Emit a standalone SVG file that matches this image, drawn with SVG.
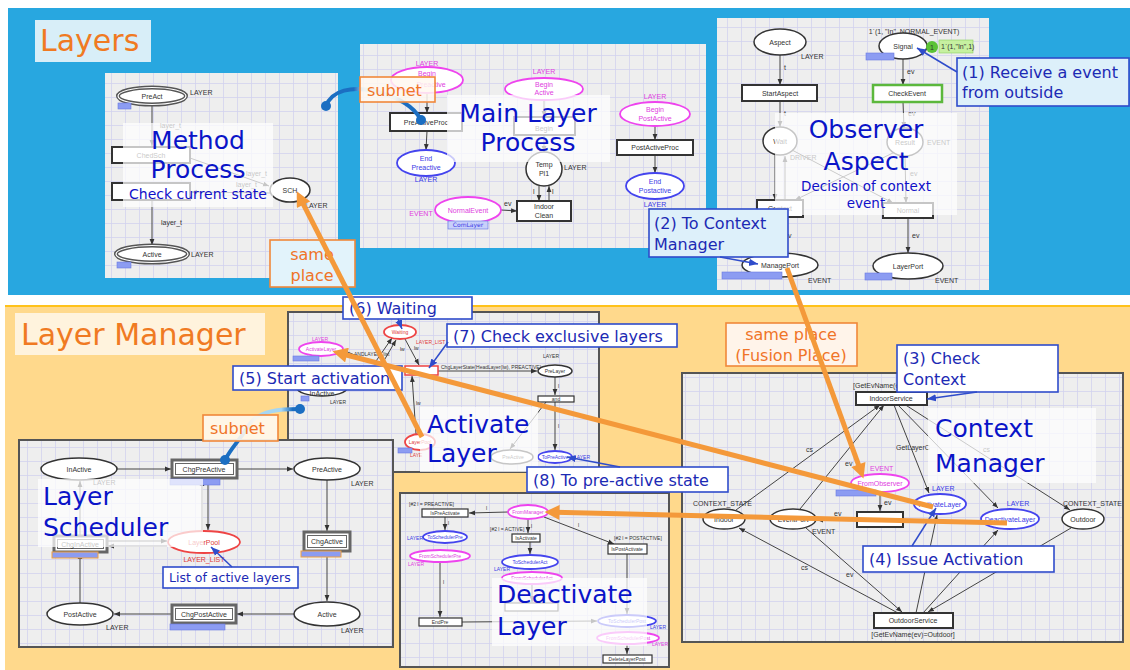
<svg xmlns="http://www.w3.org/2000/svg" width="1130" height="670" viewBox="0 0 1130 670">
<style>
text{font-family:"DejaVu Sans","Noto Sans",sans-serif}
.s{font-family:"Liberation Sans",Arial,sans-serif;font-size:7px;fill:#333}
.xs{font-family:"Liberation Sans",Arial,sans-serif;font-size:5px;fill:#333}
.c{text-anchor:middle}
.pl{fill:#fff;stroke:#333;stroke-width:1.5}
.tr{fill:#fff;stroke:#333;stroke-width:2}
.tr1{fill:#fff;stroke:#333;stroke-width:1.2}
.mg{fill:#fff;stroke:#EE44EE;stroke-width:1.8}
.bn{fill:#fff;stroke:#4444EE;stroke-width:1.8}
.rd{fill:#fff;stroke:#EE4444;stroke-width:1.8}
.tm{fill:#E040E0}
.tb{fill:#3A3AE6}
.trd{fill:#E03A3A}
.arc{stroke:#444;stroke-width:1;fill:none}
.ov{fill:#fff;fill-opacity:.72}
.big{font-size:25px;fill:#0A14C8}
.co{fill:#fff;stroke:#2F4CCB;stroke-width:1.6}
.cof{fill:#DDF0FA;stroke:#2F4CCB;stroke-width:1.6}
.ct{font-size:16px;fill:#1C2AB4}
.cl{stroke:#2F4CCB;stroke-width:1.5;fill:none}
.ot{font-size:16px;fill:#F07428}
.on{stroke:#F4993A;stroke-width:5;fill:none}
.tag{fill:#8C9CF2;stroke:#6A7AE0;stroke-width:.6}
.tago{fill:#8C9CF2;stroke:#F0A040;stroke-width:1}
.pn{fill:url(#grid)}
.pb{fill:url(#grid);stroke:#555;stroke-width:2}
.dot{fill:#1B6EC2}
</style>
<defs>
<pattern id="grid" width="14" height="14" patternUnits="userSpaceOnUse">
<rect width="14" height="14" fill="#EEEEEE"/>
<path d="M13.5 0V14M0 13.5H14" stroke="#D2D2EE" stroke-width="0.8" fill="none"/>
</pattern>
<marker id="ah" viewBox="0 0 10 10" refX="10" refY="5" markerWidth="6" markerHeight="6" markerUnits="userSpaceOnUse" orient="auto"><path d="M0,1L10,5L0,9z" fill="#333"/></marker>
<marker id="ab" viewBox="0 0 10 10" refX="10" refY="5" markerWidth="9" markerHeight="9" markerUnits="userSpaceOnUse" orient="auto"><path d="M0,1L10,5L0,9z" fill="#2F4CCB"/></marker>
<marker id="ao" viewBox="0 0 10 10" refX="3" refY="5" markerWidth="17" markerHeight="15" markerUnits="userSpaceOnUse" orient="auto"><path d="M0,0L10,5L0,10z" fill="#F4993A"/></marker>
<linearGradient id="sg1" gradientUnits="userSpaceOnUse" x1="325" y1="0" x2="421" y2="0">
<stop offset="0" stop-color="#1B6EC2"/><stop offset=".3" stop-color="#1B6EC2"/><stop offset=".42" stop-color="#A6D6F2"/><stop offset=".72" stop-color="#A6D6F2"/><stop offset=".82" stop-color="#1B6EC2"/><stop offset="1" stop-color="#1B6EC2"/>
</linearGradient>
<linearGradient id="sg2" gradientUnits="userSpaceOnUse" x1="300" y1="0" x2="225" y2="0">
<stop offset="0" stop-color="#1B6EC2"/><stop offset=".1" stop-color="#1B6EC2"/><stop offset=".25" stop-color="#A6D6F2"/><stop offset=".6" stop-color="#A6D6F2"/><stop offset=".75" stop-color="#1B6EC2"/><stop offset="1" stop-color="#1B6EC2"/>
</linearGradient>
</defs>

<!-- backgrounds -->
<rect width="1130" height="670" fill="#fff"/>
<rect x="8" y="8" width="1122" height="287" fill="#28A7E0"/>
<rect x="5" y="305" width="1125" height="365" fill="#FFD98C"/>
<line x1="5" y1="306" x2="1130" y2="306" stroke="#FFC21A" stroke-width="2"/>

<g id="label-layers">
<rect x="35" y="20" width="116" height="42" fill="#D8EEF8"/>
<text x="40" y="51" font-size="30" fill="#F07A22">Layers</text>
</g>
<g id="label-layer-manager">
<rect x="15" y="313" width="250" height="42" fill="#FFF3DD"/>
<text x="21" y="345" font-size="30" fill="#F07A22">Layer Manager</text>
</g>

<!-- Method Process net -->
<g id="method-process">
<rect class="pn" x="105" y="73" width="233" height="205"/>
<line class="arc" x1="152" y1="104" x2="152" y2="146" marker-end="url(#ah)"/>
<text class="s" x="160" y="128">layer_t</text>
<line class="arc" x1="190" y1="158" x2="269" y2="186" marker-end="url(#ah)"/>
<line class="arc" x1="270" y1="193" x2="191" y2="192" marker-end="url(#ah)"/>
<text class="s" x="246" y="176">layer_t</text>
<text class="s" x="236" y="187">layer_t</text>
<line class="arc" x1="152" y1="200" x2="152" y2="245" marker-end="url(#ah)"/>
<text class="s" x="161" y="225">layer_t</text>
<ellipse cx="152" cy="96" rx="34" ry="8.5" fill="#fff" stroke="#555" stroke-width="4"/>
<ellipse cx="152" cy="96" rx="34" ry="8.5" fill="none" stroke="#fff" stroke-width="1.2"/>
<text class="s c" x="152" y="99">PreAct</text>
<text class="s" x="190" y="95">LAYER</text>
<rect class="tag" x="118" y="103" width="13" height="6"/>
<rect class="tr" x="112" y="147" width="78" height="16"/>
<text class="s c" x="151" y="158">ChedSch</text>
<rect class="tr" x="112" y="183" width="78" height="17"/>
<ellipse class="pl" cx="290" cy="190" rx="20" ry="12"/>
<text class="s c" x="290" y="193">SCH</text>
<text class="s" x="305" y="208">LAYER</text>
<ellipse cx="152" cy="254" rx="36" ry="8.5" fill="#fff" stroke="#555" stroke-width="4"/>
<ellipse cx="152" cy="254" rx="36" ry="8.5" fill="none" stroke="#fff" stroke-width="1.2"/>
<text class="s c" x="152" y="257">Active</text>
<text class="s" x="191" y="257">LAYER</text>
<rect class="tag" x="117" y="262" width="14" height="6"/>
<rect class="ov" x="123" y="123" width="150" height="84"/>
<text class="big c" x="198" y="149">Method</text>
<text class="big c" x="198" y="178">Process</text>
<text class="c" x="198" y="199" font-size="14" fill="#1010C8">Check current state</text>
</g>

<!-- Main Layer Process net -->
<g id="main-layer-process">
<rect class="pn" x="360" y="44" width="346" height="204"/>
<line class="arc" x1="427" y1="93" x2="427" y2="113" stroke-width="1.5" marker-end="url(#ah)"/>
<line class="arc" x1="427" y1="131" x2="426" y2="150" stroke-width="1.5" marker-end="url(#ah)"/>
<line class="arc" x1="544" y1="100" x2="544" y2="117" marker-end="url(#ah)"/>
<line class="arc" x1="544" y1="135" x2="544" y2="152" marker-end="url(#ah)"/>
<line class="arc" x1="539" y1="186" x2="539" y2="201" marker-end="url(#ah)"/>
<line class="arc" x1="549" y1="201" x2="549" y2="186" marker-end="url(#ah)"/>
<text class="s" x="533" y="194">l</text><text class="s" x="552" y="194">l</text>
<line class="arc" x1="501" y1="210" x2="517" y2="211" marker-end="url(#ah)"/>
<text class="s" x="504" y="206">ev</text>
<line class="arc" x1="655" y1="126" x2="655" y2="140" marker-end="url(#ah)"/>
<line class="arc" x1="655" y1="155" x2="655" y2="173" marker-end="url(#ah)"/>
<text class="s c tm" x="427" y="66">LAYER</text>
<ellipse class="mg" cx="427" cy="80" rx="36" ry="13"/>
<text class="s c tm" x="427" y="76">Begin</text><text class="s c tm" x="431" y="87">Preactive</text>
<rect class="tr" x="390" y="113" width="72" height="18"/>
<text class="s c" x="426" y="125">PreActiveProc</text>
<ellipse class="bn" cx="426" cy="163" rx="29" ry="13"/>
<text class="s c tb" x="426" y="161">End</text><text class="s c tb" x="426" y="170">Preactive</text>
<text class="s c tb" x="426" y="182">LAYER</text>
<text class="s c tm" x="544" y="74">LAYER</text>
<ellipse class="mg" cx="544" cy="89" rx="39" ry="11"/>
<text class="s c tm" x="544" y="87">Begin</text><text class="s c tm" x="544" y="95">Active</text>
<rect class="tr" x="514" y="117" width="61" height="18"/>
<text class="s c" x="544" y="131">Begin</text>
<ellipse class="pl" cx="544" cy="169" rx="18" ry="17"/>
<text class="s c" x="544" y="167">Temp</text><text class="s c" x="544" y="176">Pl1</text>
<text class="s" x="564" y="170">LAYER</text>
<rect class="tr" x="517" y="201" width="54" height="20"/>
<text class="s c" x="544" y="209">Indoor</text><text class="s c" x="544" y="218">Clean</text>
<ellipse class="mg" cx="468" cy="210" rx="33" ry="13"/>
<text class="s c tm" x="468" y="213">NormalEvent</text>
<text class="s c tm" x="421" y="216">EVENT</text>
<rect x="448" y="221" width="40" height="8" fill="#C8D0FA" stroke="#6070E0" stroke-width=".6"/>
<text class="c" x="468" y="227" font-size="6" font-family="Liberation Sans" fill="#3A3AE6">ComLayer</text>
<text class="s c tm" x="655" y="99">LAYER</text>
<ellipse class="mg" cx="655" cy="114" rx="35" ry="12"/>
<text class="s c tm" x="655" y="112">Begin</text><text class="s c tm" x="655" y="121">PostActive</text>
<rect class="tr" x="617" y="140" width="76" height="15"/>
<text class="s c" x="655" y="150">PostActiveProc</text>
<ellipse class="bn" cx="655" cy="186" rx="29" ry="13"/>
<text class="s c tb" x="655" y="184">End</text><text class="s c tb" x="655" y="193">Postactive</text>
<text class="s c tb" x="655" y="207">LAYER</text>
<rect class="ov" x="447" y="95" width="163" height="67"/>
<text class="big c" x="528" y="122">Main Layer</text>
<text class="big c" x="528" y="151">Process</text>
</g>

<!-- Observer Aspect net -->
<g id="observer-aspect">
<rect class="pn" x="717" y="18" width="272" height="272"/>
<text class="s c" x="914" y="34">1`(1, "In", NORMAL_EVENT)</text>
<line class="arc" x1="780" y1="55" x2="780" y2="85" marker-end="url(#ah)"/>
<text class="s" x="784" y="70">t</text>
<line class="arc" x1="780" y1="101" x2="780" y2="127" marker-end="url(#ah)"/>
<text class="s" x="784" y="116">t</text>
<line class="arc" x1="775" y1="155" x2="775" y2="200" marker-end="url(#ah)"/>
<line class="arc" x1="785" y1="200" x2="785" y2="156" marker-end="url(#ah)"/>
<line class="arc" x1="792" y1="150" x2="893" y2="203" marker-end="url(#ah)"/>
<line class="arc" x1="895" y1="152" x2="795" y2="200" marker-end="url(#ah)"/>
<text class="s" x="790" y="160">DRIVER</text>
<line class="arc" x1="903" y1="59" x2="903" y2="85" marker-end="url(#ah)"/>
<text class="s" x="907" y="74">ev</text>
<line class="arc" x1="903" y1="102" x2="904" y2="128" marker-end="url(#ah)"/>
<text class="s" x="908" y="116">ev</text>
<line class="arc" x1="905" y1="156" x2="906" y2="203" marker-end="url(#ah)"/>
<text class="s" x="910" y="176">ev</text>
<line class="arc" x1="780" y1="217" x2="780" y2="253" marker-end="url(#ah)"/>
<text class="s" x="784" y="238">ev</text>
<line class="arc" x1="908" y1="218" x2="908" y2="253" marker-end="url(#ah)"/>
<text class="s" x="912" y="238">ev</text>
<ellipse class="pl" cx="780" cy="42" rx="26" ry="13"/>
<text class="s c" x="780" y="45">Aspect</text>
<text class="s" x="801" y="59">LAYER</text>
<rect class="tr" x="742" y="85" width="75" height="16"/>
<text class="s c" x="780" y="96">StartAspect</text>
<ellipse class="pl" cx="780" cy="141" rx="17" ry="14"/>
<text class="s c" x="780" y="144">Wait</text>
<ellipse class="pl" cx="903" cy="46" rx="24" ry="13"/>
<text class="s c" x="903" y="49">Signal</text>
<rect class="tag" x="866" y="53" width="28" height="7"/>
<circle cx="932" cy="47" r="6" fill="#5BC236"/>
<text class="s c" x="932" y="50" fill="#fff">1</text>
<rect x="939" y="40" width="34" height="13" fill="#C6F0A0" stroke="#8BD060" stroke-width=".6"/>
<text class="s" x="941" y="49">1`(1,"In",1)</text>
<rect x="873" y="85" width="69" height="17" fill="#fff" stroke="#5CB83C" stroke-width="2.5"/>
<text class="s c" x="907" y="96">CheckEvent</text>
<ellipse class="pl" cx="905" cy="142" rx="18" ry="14"/>
<text class="s c" x="905" y="145">Result</text>
<text class="s" x="927" y="145">EVENT</text>
<rect class="tr" x="757" y="200" width="46" height="17"/>
<text class="s c" x="780" y="211">Context</text>
<rect class="tr" x="883" y="203" width="50" height="15"/>
<text class="s c" x="908" y="213">Normal</text>
<ellipse class="pl" cx="780" cy="265" rx="38" ry="12"/>
<text class="s c" x="780" y="268">ManagePort</text>
<text class="s" x="808" y="283">EVENT</text>
<rect class="tag" x="722" y="272" width="60" height="7"/>
<ellipse class="pl" cx="908" cy="266" rx="35" ry="13"/>
<text class="s c" x="908" y="269">LayerPort</text>
<text class="s" x="935" y="283">EVENT</text>
<rect class="tag" x="865" y="273" width="27" height="7"/>
<rect class="ov" x="775" y="113" width="182" height="102"/>
<text class="big c" x="866" y="138">Observer</text>
<text class="big c" x="866" y="170">Aspect</text>
<text class="c" x="866" y="191" font-size="13.5" fill="#1010C8">Decision of context</text>
<text class="c" x="866" y="208" font-size="13.5" fill="#1010C8">event</text>
</g>

<!-- Activate Layer net -->
<g id="activate-layer">
<rect class="pb" x="288" y="312" width="311" height="160"/>
<line class="arc" x1="343" y1="350" x2="373" y2="363"/>
<text class="xs" x="354" y="356">ANDLAYER_list</text>
<line class="arc" x1="374" y1="364" x2="392" y2="338" marker-end="url(#ah)"/>
<line class="arc" x1="382" y1="364" x2="396" y2="340" marker-end="url(#ah)"/>
<line class="arc" x1="405" y1="339" x2="419" y2="365" marker-end="url(#ah)"/>
<text class="xs" x="400" y="351">lw</text><text class="xs" x="414" y="350">lw</text>
<line class="arc" x1="438" y1="371" x2="537" y2="371" marker-end="url(#ah)"/>
<text class="xs" x="441" y="369">ChgLayerState(HeadLayer(lw), PREACTIVE)</text>
<line class="arc" x1="555" y1="377" x2="555" y2="395" marker-end="url(#ah)"/>
<text class="xs" x="558" y="388">l</text>
<line class="arc" x1="555" y1="402" x2="555" y2="450" marker-end="url(#ah)"/>
<text class="xs" x="558" y="428">l</text>
<line class="arc" x1="546" y1="402" x2="510" y2="449" marker-end="url(#ah)"/>
<line class="arc" x1="416" y1="434" x2="412" y2="376" marker-end="url(#ah)"/>
<text class="xs" x="416" y="405">lw</text>
<text class="xs tm" x="312" y="341">LAYER</text>
<ellipse class="mg" cx="321" cy="349" rx="22" ry="7"/>
<text class="xs c tm" x="321" y="351">ActivateLayer</text>
<rect class="tag" x="293" y="356" width="26" height="5"/>
<ellipse class="pl" cx="322" cy="388" rx="25" ry="8"/>
<text class="s c" x="322" y="396">InActive</text>
<text class="xs" x="330" y="404">LAYER</text>
<rect class="tag" x="301" y="396" width="8" height="5"/>
<ellipse class="rd" cx="400" cy="332" rx="16" ry="7"/>
<text class="xs c trd" x="400" y="334">Waiting</text>
<text class="xs trd" x="416" y="344">LAYER_LIST</text>
<rect x="405" y="366" width="33" height="9" fill="#fff" stroke="#EE4444" stroke-width="1.5"/>
<text class="xs c" x="551" y="358">LAYER</text>
<ellipse class="pl" cx="555" cy="371" rx="17" ry="6"/>
<text class="xs c" x="555" y="373">PreLayer</text>
<rect class="tr1" x="538" y="396" width="36" height="6"/>
<text class="xs c" x="556" y="401">and</text>
<ellipse class="bn" cx="555" cy="457" rx="17" ry="6"/>
<text class="xs c tb" x="555" y="459">ToPreActive</text>
<text class="xs tb" x="574" y="459">LAYER</text>
<ellipse class="rd" cx="420" cy="442" rx="15" ry="8"/>
<text class="xs c trd" x="420" y="444">LayerPool</text>
<rect class="tag" x="398" y="448" width="14" height="5"/>
<text class="xs trd" x="410" y="457">LAYE</text>
<ellipse class="pl" cx="512" cy="457" rx="21" ry="7"/>
<text class="xs c" x="513" y="459">PreActive</text>
<rect class="ov" x="420" y="407" width="118" height="65"/>
<text class="big" x="427" y="433">Activate</text>
<text class="big" x="427" y="462">Layer</text>
</g>

<!-- Layer Scheduler net -->
<g id="layer-scheduler">
<rect class="pb" x="19" y="440" width="374" height="207"/>
<line class="arc" x1="117" y1="469" x2="171" y2="469" marker-end="url(#ah)"/>
<line class="arc" x1="238" y1="469" x2="293" y2="469" marker-end="url(#ah)"/>
<line class="arc" x1="327" y1="480" x2="327" y2="531" marker-end="url(#ah)"/>
<line class="arc" x1="327" y1="552" x2="327" y2="601" marker-end="url(#ah)"/>
<line class="arc" x1="294" y1="614" x2="237" y2="614" marker-end="url(#ah)"/>
<line class="arc" x1="171" y1="614" x2="114" y2="614" marker-end="url(#ah)"/>
<line class="arc" x1="80" y1="603" x2="80" y2="553" marker-end="url(#ah)"/>
<line class="arc" x1="80" y1="535" x2="80" y2="481" marker-end="url(#ah)"/>
<line class="arc" x1="202" y1="530" x2="202" y2="480" marker-end="url(#ah)"/>
<line class="arc" x1="208" y1="480" x2="208" y2="530" marker-end="url(#ah)"/>
<line class="arc" x1="108" y1="541" x2="167" y2="541" marker-end="url(#ah)"/>
<line class="arc" x1="167" y1="546" x2="108" y2="546" marker-end="url(#ah)"/>
<ellipse class="pl" cx="79" cy="469" rx="38" ry="11"/>
<text class="s c" x="79" y="472">InActive</text>
<text class="s" x="93" y="485">LAYER</text>
<rect x="172" y="460" width="65" height="18" fill="#fff" stroke="#666" stroke-width="3"/>
<rect x="175.5" y="463.5" width="58" height="11" fill="none" stroke="#666" stroke-width="1"/>
<text class="s c" x="204" y="472">ChgPreActive</text>
<rect class="tag" x="170" y="479" width="50" height="6"/>
<ellipse class="pl" cx="327" cy="469" rx="33" ry="11"/>
<text class="s c" x="327" y="472">PreActive</text>
<text class="s" x="351" y="486">LAYER</text>
<rect x="54" y="536" width="53" height="16" fill="#fff" stroke="#666" stroke-width="3"/>
<rect x="57.5" y="539.5" width="46" height="9" fill="none" stroke="#666" stroke-width="1"/>
<text class="s c" x="80" y="547">ChgInActive</text>
<rect class="tago" x="52" y="552" width="46" height="6"/>
<ellipse class="rd" cx="204" cy="542" rx="36" ry="11"/>
<text class="s c trd" x="204" y="545">LayerPool</text>
<text class="s c trd" x="204" y="562">LAYER_LIST</text>
<rect x="304" y="532" width="46" height="19" fill="#fff" stroke="#666" stroke-width="3"/>
<rect x="307.5" y="535.5" width="39" height="12" fill="none" stroke="#666" stroke-width="1"/>
<text class="s c" x="327" y="544">ChgActive</text>
<rect class="tago" x="301" y="551" width="40" height="6"/>
<ellipse class="pl" cx="327" cy="614" rx="33" ry="12"/>
<text class="s c" x="327" y="617">Active</text>
<text class="s" x="341" y="633">LAYER</text>
<rect x="172" y="605" width="64" height="18" fill="#fff" stroke="#666" stroke-width="3"/>
<rect x="175.5" y="608.5" width="57" height="11" fill="none" stroke="#666" stroke-width="1"/>
<text class="s c" x="204" y="617">ChgPostActive</text>
<rect class="tag" x="170" y="624" width="55" height="6"/>
<ellipse class="pl" cx="80" cy="614" rx="33" ry="11"/>
<text class="s c" x="80" y="617">PostActive</text>
<text class="s" x="106" y="630">LAYER</text>
<rect class="ov" x="38" y="479" width="165" height="68"/>
<text class="big" x="43" y="505">Layer</text>
<text class="big" x="43" y="536">Scheduler</text>
</g>

<!-- Deactivate Layer net -->
<g id="deactivate-layer">
<rect class="pb" x="400" y="493" width="269" height="174"/>
<line class="arc" x1="508" y1="512" x2="469" y2="513" marker-end="url(#ah)"/>
<text class="xs" x="486" y="510">l</text>
<line class="arc" x1="445" y1="517" x2="445" y2="530" marker-end="url(#ah)"/>
<text class="xs" x="448" y="525">l</text>
<line class="arc" x1="440" y1="562" x2="440" y2="617" marker-end="url(#ah)"/>
<text class="xs" x="443" y="584">l</text>
<line class="arc" x1="462" y1="622" x2="597" y2="621" marker-end="url(#ah)"/>
<line class="arc" x1="528" y1="519" x2="528" y2="533" marker-end="url(#ah)"/>
<text class="xs" x="531" y="528">l</text>
<line class="arc" x1="530" y1="542" x2="530" y2="554" marker-end="url(#ah)"/>
<line class="arc" x1="532" y1="584" x2="532" y2="602" marker-end="url(#ah)"/>
<line class="arc" x1="544" y1="517" x2="614" y2="544" marker-end="url(#ah)"/>
<text class="xs" x="578" y="527">l</text>
<line class="arc" x1="627" y1="554" x2="627" y2="614" marker-end="url(#ah)"/>
<line class="arc" x1="627" y1="644" x2="627" y2="654" marker-end="url(#ah)"/>
<text class="xs" x="409" y="506">[#2 l = PREACTIVE]</text>
<ellipse class="mg" cx="528" cy="512" rx="20" ry="7"/>
<text class="xs c tm" x="528" y="514">FromManager</text>
<rect class="tr1" x="422" y="509" width="46" height="8"/>
<text class="xs c" x="445" y="515">IsPreActivate</text>
<ellipse class="bn" cx="445" cy="537" rx="22" ry="6"/>
<text class="xs c tb" x="445" y="539">ToSchedulerPre</text>
<text class="xs tb" x="407" y="540">LAYER</text>
<ellipse class="mg" cx="440" cy="556" rx="30" ry="6"/>
<text class="xs c tm" x="440" y="558">FromSchedulerPre</text>
<text class="xs tm" x="408" y="566">LAYER</text>
<rect class="tr1" x="419" y="618" width="43" height="8"/>
<text class="xs c" x="440" y="624">EndPre</text>
<text class="xs" x="490" y="531">[#2 l = ACTIVE]</text>
<rect class="tr1" x="512" y="534" width="28" height="8"/>
<text class="xs c" x="526" y="540">IsActivate</text>
<ellipse class="bn" cx="530" cy="562" rx="28" ry="7"/>
<text class="xs c tb" x="530" y="564">ToSchedulerAct</text>
<text class="xs tb" x="494" y="571">LAYER</text>
<ellipse class="mg" cx="532" cy="578" rx="30" ry="6"/>
<text class="xs c tm" x="532" y="580">FromSchedulerAct</text>
<rect class="tr1" x="505" y="603" width="53" height="8"/>
<text class="xs" x="614" y="540">[#2 l = POSTACTIVE]</text>
<rect class="tr1" x="608" y="544" width="39" height="10"/>
<text class="xs c" x="627" y="551">IsPostActivate</text>
<ellipse class="bn" cx="627" cy="621" rx="29" ry="6"/>
<text class="xs c tb" x="627" y="623">ToSchedulerPost</text>
<text class="xs tb" x="650" y="629">LAYER</text>
<ellipse class="mg" cx="628" cy="638" rx="31" ry="6"/>
<text class="xs c tm" x="628" y="640">FromSchedulerPost</text>
<text class="xs tm" x="652" y="646">LAYER</text>
<rect class="tr1" x="603" y="655" width="49" height="8"/>
<text class="xs c" x="627" y="661">DeleteLayerPost</text>
<rect class="ov" x="492" y="578" width="155" height="68"/>
<text class="big" x="497" y="603">Deactivate</text>
<text class="big" x="497" y="635">Layer</text>
</g>

<!-- Context Manager net -->
<g id="context-manager">
<rect class="pb" x="682" y="373" width="441" height="269"/>
<line class="arc" x1="736" y1="510" x2="880" y2="405" marker-end="url(#ah)"/>
<line class="arc" x1="800" y1="509" x2="884" y2="405" marker-end="url(#ah)"/>
<line class="arc" x1="894" y1="405" x2="929" y2="493" marker-end="url(#ah)"/>
<line class="arc" x1="898" y1="405" x2="998" y2="508" marker-end="url(#ah)"/>
<line class="arc" x1="904" y1="404" x2="1070" y2="510" marker-end="url(#ah)"/>
<line class="arc" x1="898" y1="613" x2="739" y2="528" marker-end="url(#ah)"/>
<line class="arc" x1="806" y1="528" x2="902" y2="612" marker-end="url(#ah)"/>
<line class="arc" x1="1071" y1="528" x2="928" y2="612" marker-end="url(#ah)"/>
<line class="arc" x1="923" y1="613" x2="998" y2="530" marker-end="url(#ah)"/>
<line class="arc" x1="916" y1="613" x2="937" y2="515" marker-end="url(#ah)"/>
<line class="arc" x1="857" y1="520" x2="817" y2="520" marker-end="url(#ah)"/>
<line class="arc" x1="880" y1="493" x2="880" y2="511" marker-end="url(#ah)" marker-start="url(#ah)"/>
<text class="s" x="806" y="452">cs</text>
<text class="s" x="845" y="466">ev</text>
<text class="s" x="983" y="452">cs</text>
<text class="s" x="896" y="450">GetLayerC</text>
<text class="s" x="834" y="516">ev</text>
<text class="s" x="884" y="505">ev</text>
<text class="s" x="801" y="570">cs</text>
<text class="s" x="846" y="577">ev</text>
<text class="s" x="853" y="388">[GetEvName(ev)=Indoor]</text>
<rect class="tr" x="856" y="392" width="71" height="13"/>
<text class="s c" x="891" y="401">IndoorService</text>
<text class="s" x="693" y="506">CONTEXT_STATE</text>
<ellipse class="pl" cx="724" cy="519" rx="21" ry="10"/>
<text class="s c" x="724" y="522">Indoor</text>
<ellipse class="pl" cx="793" cy="519" rx="23" ry="10"/>
<text class="s c" x="793" y="522">EventPort</text>
<text class="s" x="812" y="534">EVENT</text>
<text class="s tm" x="870" y="471">EVENT</text>
<ellipse class="mg" cx="880" cy="483" rx="29" ry="9"/>
<text class="s c tm" x="880" y="486">FromObserver</text>
<rect class="tag" x="836" y="490" width="40" height="6"/>
<rect class="tr" x="857" y="512" width="46" height="15"/>
<text class="s tb" x="932" y="491">LAYER</text>
<ellipse class="bn" cx="940" cy="504" rx="26" ry="10"/>
<text class="s c tb" x="940" y="507">ActivateLayer</text>
<text class="s c tb" x="1018" y="506">LAYER</text>
<ellipse class="bn" cx="1010" cy="519" rx="29" ry="10"/>
<text class="s c tb" x="1010" y="522">DeactivateLayer</text>
<text class="s" x="1063" y="506">CONTEXT_STATE</text>
<ellipse class="pl" cx="1083" cy="519" rx="21" ry="10"/>
<text class="s c" x="1083" y="522">Outdoor</text>
<rect class="tr" x="874" y="613" width="79" height="15"/>
<text class="s c" x="913" y="623">OutdoorService</text>
<text class="s c" x="913" y="637">[GetEvName(ev)=Outdoor]</text>
<rect class="ov" x="928" y="408" width="168" height="75"/>
<text class="big" x="935" y="437" font-size="27">Context</text>
<text class="big" x="935" y="472" font-size="27">Manager</text>
</g>

<!-- fusion / subnet notes -->
<g id="note-subnet-top">
<path d="M326,106 C332,90 352,86 374,91 C398,97 414,106 421,120" stroke="url(#sg1)" stroke-width="4" fill="none"/>
<circle class="dot" cx="326" cy="106" r="5"/>
<circle class="dot" cx="421" cy="120" r="5"/>
<rect x="360" y="77" width="75" height="25" fill="#FFF8F0" fill-opacity=".85" stroke="#F0883A" stroke-width="1.6"/>
<text class="ot" x="367" y="96">subnet</text>
</g>
<g id="note-subnet-bottom">
<path d="M300,409 C282,409 258,410 249,425 C240,440 231,448 225,460" stroke="url(#sg2)" stroke-width="4" fill="none"/>
<circle class="dot" cx="300" cy="409" r="5"/>
<circle class="dot" cx="225" cy="460" r="5"/>
<rect x="203" y="415" width="75" height="26" fill="#FFF8F0" fill-opacity=".9" stroke="#F0883A" stroke-width="1.6"/>
<text class="ot" x="210" y="434">subnet</text>
</g>
<g id="note-same-place">
<rect x="270" y="240" width="85" height="47" fill="#E2F3FB" stroke="#F0883A" stroke-width="1.6"/>
<text class="ot c" x="312" y="260">same</text>
<text class="ot c" x="312" y="281">place</text>
</g>
<g id="note-fusion-place">
<rect x="726" y="323" width="131" height="43" fill="#FFF4EA" stroke="#F0883A" stroke-width="1.6"/>
<text class="ot c" x="791" y="340">same place</text>
<text class="ot c" x="791" y="361">(Fusion Place)</text>
</g>

<!-- step callouts -->
<g id="step-1">
<rect class="cof" x="957" y="58" width="172" height="48"/>
<text class="ct" x="962" y="78">(1) Receive a event</text>
<text class="ct" x="962" y="98">from outside</text>
</g>
<g id="step-2">
<rect class="cof" x="649" y="209" width="139" height="48"/>
<text class="ct" x="654" y="229">(2) To Context</text>
<text class="ct" x="654" y="250">Manager</text>
</g>
<g id="step-3">
<rect class="co" x="897" y="345" width="161" height="47"/>
<text class="ct" x="903" y="364">(3) Check</text>
<text class="ct" x="903" y="385">Context</text>
</g>
<g id="step-4">
<rect class="co" x="863" y="546" width="191" height="26"/>
<text class="ct" x="869" y="565">(4) Issue Activation</text>
</g>
<g id="step-5">
<rect class="co" x="233" y="366" width="169" height="24"/>
<text class="ct" x="239" y="384">(5) Start activation</text>
</g>
<g id="step-6">
<rect class="co" x="343" y="297" width="129" height="22"/>
<text class="ct" x="349" y="314">(6) Waiting</text>
</g>
<g id="step-7">
<rect class="co" x="447" y="324" width="230" height="23"/>
<text class="ct" x="453" y="342">(7) Check exclusive layers</text>
</g>
<g id="step-8">
<rect class="co" x="527" y="467" width="201" height="25"/>
<text class="ct" x="533" y="486">(8) To pre-active state</text>
</g>
<g id="step-9">
<rect class="co" x="163" y="567" width="135" height="21"/>
<text x="169" y="582" font-size="12.5" fill="#1C2AB4">List of active layers</text>
</g>

<!-- connectors -->
<g id="connectors">
<line class="cl" x1="957" y1="72" x2="917" y2="48" marker-end="url(#ab)"/>
<line class="cl" x1="720" y1="257" x2="758" y2="264" marker-end="url(#ab)"/>
<line class="cl" x1="977" y1="392" x2="927" y2="399" marker-end="url(#ab)"/>
<line class="cl" x1="912" y1="546" x2="936" y2="508" marker-end="url(#ab)"/>
<line class="cl" x1="398" y1="319" x2="402" y2="329" marker-end="url(#ab)"/>
<line class="cl" x1="448" y1="342" x2="429" y2="368" marker-end="url(#ab)"/>
<line class="cl" x1="620" y1="467" x2="567" y2="457" marker-end="url(#ab)"/>
<line class="cl" x1="232" y1="567" x2="211" y2="547" marker-end="url(#ab)"/>
<line class="on" x1="422" y1="437" x2="301.5" y2="200.7" marker-end="url(#ao)"/>
<line class="on" x1="787" y1="268" x2="859.9" y2="468.7" marker-end="url(#ao)"/>
<line class="on" x1="933" y1="507" x2="342.6" y2="354" marker-end="url(#ao)"/>
<line class="on" x1="1007" y1="523" x2="555" y2="512.3" marker-end="url(#ao)"/>
</g>
</svg>
